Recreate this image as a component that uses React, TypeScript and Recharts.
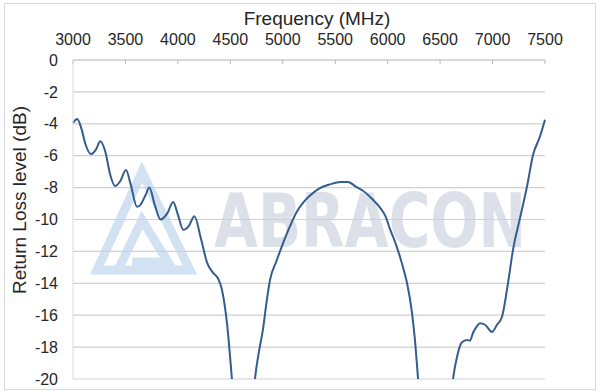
import { LineChart, Line, XAxis, YAxis, CartesianGrid } from 'recharts'

const frequencies = [
  3000, 3040, 3080, 3120, 3170, 3220, 3260, 3310, 3355, 3400, 3450, 3505, 3550,
  3610, 3640, 3690, 3728, 3780, 3835, 3900, 3955, 4000, 4052, 4105, 4157, 4220,
  4278, 4330, 4383, 4420, 4468, 4515, 4560, 4625, 4690, 4735, 4775, 4811, 4845,
  4878, 4940, 5002, 5070, 5135, 5200, 5260, 5350, 5450, 5550, 5622, 5700, 5765,
  5850, 5927, 5980, 6022, 6070, 6118, 6155, 6185, 6232, 6260, 6290, 6350, 6450,
  6560, 6623, 6665, 6708, 6756, 6785, 6814, 6850, 6880, 6928, 6995, 7042, 7090,
  7147, 7195, 7262, 7328, 7386, 7452, 7500,
]

const returnLoss = [
  -3.95, -3.7, -4.3, -5.3, -5.9, -5.6, -5.1, -5.8, -7.2, -7.9, -7.6, -6.9, -7.8,
  -9.2, -9.1, -8.5, -8.0, -9.1, -10.0, -9.6, -8.9, -9.7, -10.65, -10.4, -9.8, -11.2,
  -12.7, -13.3, -13.7, -14.4, -16.5, -20, -24, -26, -24, -20, -18.2, -16.9, -15.2,
  -13.8, -12.6, -11.5, -10.4, -9.5, -8.9, -8.5, -8.05, -7.8, -7.65, -7.65, -7.95, -8.2,
  -8.7, -9.25, -9.8, -10.6, -11.4, -12.35, -13.2, -14, -15.85, -17.55, -20, -25, -27,
  -25, -20, -18.5, -17.7, -17.55, -17.6, -17.1, -16.7, -16.5, -16.6, -17.05, -16.6, -16.1,
  -14, -11.9, -9.9, -7.95, -5.95, -4.8, -3.75,
]

const freqTicks = [3000, 3500, 4000, 4500, 5000, 5500, 6000, 6500, 7000, 7500]
const dbTicks = [0, -2, -4, -6, -8, -10, -12, -14, -16, -18, -20]

const data = frequencies.map((f, i) => ({ freq: f, rl: returnLoss[i] }))

const font = 'Arial, "Liberation Sans", sans-serif'

function Watermark() {
  return (
    <svg width={600} height={392} style={{ position: 'absolute', left: 0, top: 0 }}>
      <rect x={4.5} y={3.5} width={591} height={386} fill="#fff" stroke="#d9d9d9" />
      <g fill="none" stroke="#d2e2f3" strokeWidth={9} strokeLinejoin="miter">
        <polygon points="142,172 97,270 190,270" />
        <polyline points="118,270 142,220 168,262 132,262" />
      </g>
      <text
        x={214}
        y={247}
        fill="#dce1e9"
        fontFamily='"DejaVu Sans", sans-serif'
        fontWeight="bold"
        fontSize={74}
        textLength={312}
        lengthAdjust="spacingAndGlyphs"
      >
        ABRACON
      </text>
    </svg>
  )
}

export default function App() {
  return (
    <div style={{ position: 'absolute', left: 0, top: 0, width: 600, height: 392, fontFamily: font }}>
      <Watermark />
      <div style={{ position: 'absolute', left: 0, top: 0 }}>
        <LineChart width={600} height={392} data={data} margin={{ top: 0, right: 55, bottom: 13, left: 0 }}>
          <CartesianGrid vertical={false} stroke="#d0d0d0" strokeWidth={1.2} />
          <XAxis
            dataKey="freq"
            type="number"
            orientation="top"
            domain={[3000, 7500]}
            ticks={freqTicks}
            height={60}
            interval={0}
            axisLine={{ stroke: '#c8c8c8' }}
            tickLine={{ stroke: '#b8b8b8' }}
            tickSize={-4}
            tickMargin={19}
            tick={{ fontSize: 16, fill: '#262626', fontFamily: font }}
            label={{
              content: () => (
                <text x={317} y={25} textAnchor="middle" fontSize={19} fill="#262626" fontFamily={font}>
                  Frequency (MHz)
                </text>
              ),
            }}
          />
          <YAxis
            type="number"
            domain={[-20, 0]}
            ticks={dbTicks}
            allowDataOverflow
            width={73}
            interval={0}
            axisLine={{ stroke: '#dcdcdc' }}
            tickLine={false}
            tickSize={0}
            tickMargin={15}
            tick={{ fontSize: 16, fill: '#262626', fontFamily: font }}
            label={{
              content: () => (
                <text
                  x={26}
                  y={200}
                  transform="rotate(-90 26 200)"
                  textAnchor="middle"
                  fontSize={19}
                  fill="#262626"
                  fontFamily={font}
                >
                  Return Loss level (dB)
                </text>
              ),
            }}
          />
          <Line
            type="monotone"
            dataKey="rl"
            stroke="#335d8d"
            strokeWidth={2}
            dot={false}
            isAnimationActive={false}
          />
        </LineChart>
      </div>
    </div>
  )
}
